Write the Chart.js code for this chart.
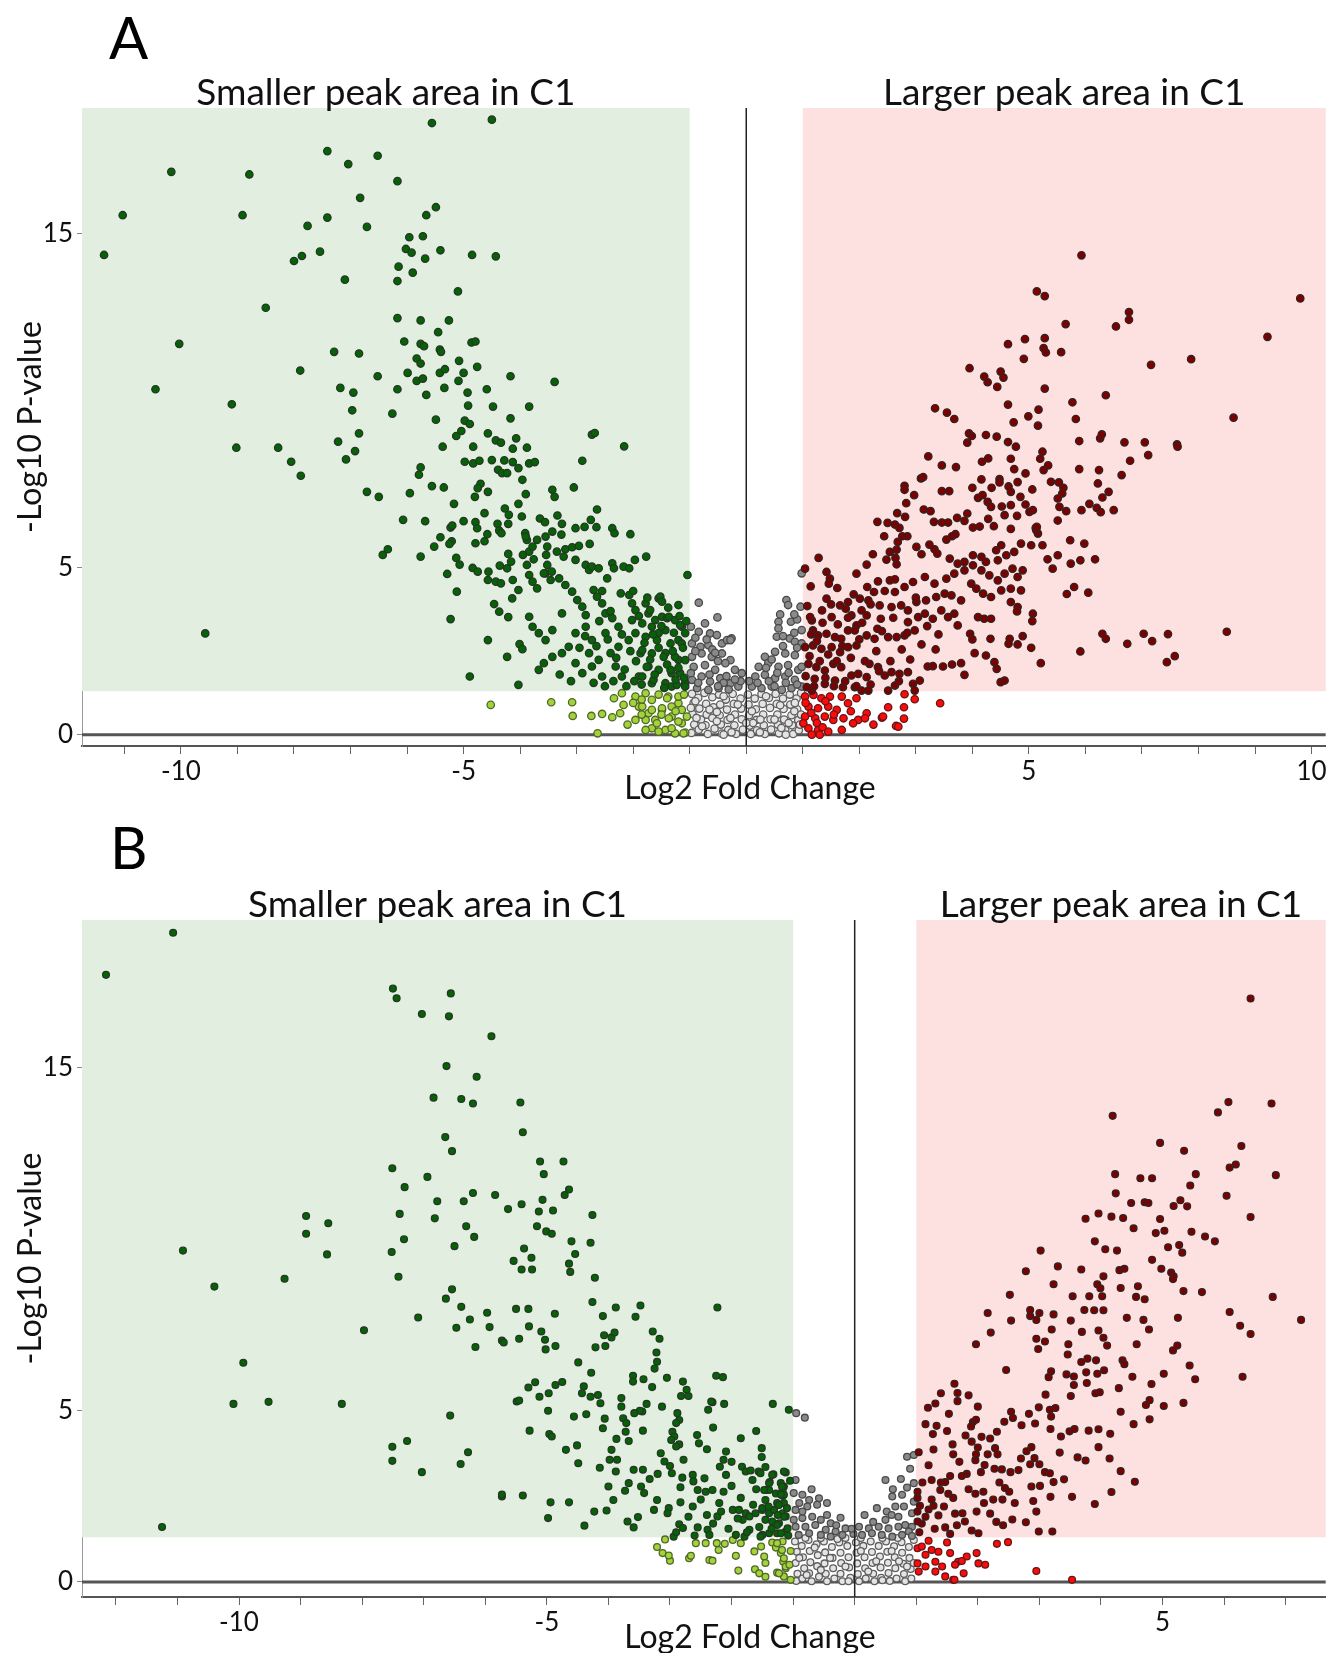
<!DOCTYPE html>
<html>
<head>
<meta charset="utf-8">
<script src="https://cdn.jsdelivr.net/npm/chart.js@4.4.1/dist/chart.umd.min.js"></script>
<style>
  html, body { margin: 0; padding: 0; background: #fff; overflow: hidden; }
  body { width: 1331px; height: 1653px; position: relative; font-family: Lato, sans-serif; }
  .panel { position: absolute; left: 0; width: 1331px; }
  #wrapA { top: 0; height: 820px; }
  #wrapB { top: 820px; height: 880px; }
  .letter { position: absolute; font-family: Lato, sans-serif; font-weight: 400; font-size: 58px; color: #000; line-height: 1; }
</style>
</head>
<body>
<div class="panel" id="wrapA"><canvas id="chartA" width="1331" height="820"></canvas></div>
<div class="panel" id="wrapB"><canvas id="chartB" width="1331" height="880"></canvas></div>
<div class="letter" style="left:109px;top:8px">A</div>
<div class="letter" style="left:110px;top:818px">B</div>

<script>
// thresholds
const fcCut = 1;
const pCut = 1.3;

const xTickLabelsA = [-10, -5, 5, 10];
const xTickLabelsB = [-10, -5, 5];
const yTickLabels = [0, 5, 15];
const leftLabel = 'Smaller peak area in C1';
const rightLabel = 'Larger peak area in C1';
const xTitle = 'Log2 Fold Change';
const yTitle = '-Log10 P-value';

// ---------- panel A (flat x,y pairs) ----------
const aDarkGreen = [
  -5.56,18.31, -4.50,18.41, -7.41,17.47, -6.52,17.33, -7.04,17.08, -10.17,16.85, -8.79,16.77, -6.17,16.57, -6.83,16.07, -5.49,15.79,
  -5.66,15.55, -11.03,15.55, -8.91,15.55, -7.41,15.48, -7.76,15.23, -6.71,15.20, -5.72,14.92, -5.96,14.89, -11.36,14.36, -6.02,14.54,
  -5.92,14.43, -5.41,14.50, -5.68,14.25, -4.85,14.36, -4.43,14.32, -7.54,14.46, -7.86,14.33, -8.00,14.18, -6.15,14.01, -5.90,13.83,
  -6.17,13.58, -7.10,13.62, -5.10,13.27, -8.50,12.78, -6.17,12.47, -5.76,12.40, -5.26,12.40, -5.45,12.05, -10.03,11.70, -6.05,11.77,
  -5.76,11.70, -5.70,11.63, -5.42,11.53, -5.40,11.46, -4.86,11.74, -4.79,11.77, -7.29,11.46, -6.85,11.41, -5.83,11.26, -5.76,11.11,
  -5.08,11.19, -4.76,11.01, -7.89,10.90, -5.99,10.83, -5.83,10.59, -5.72,10.66, -5.42,10.83, -5.33,10.94, -5.00,10.83, -6.52,10.73,
  -4.17,10.73, -3.39,10.56, -5.09,10.59, -10.45,10.34, -7.18,10.38, -6.95,10.24, -6.17,10.34, -5.66,10.17, -5.34,10.38, -4.93,10.24,
  -4.59,10.34, -9.10,9.89, -6.97,9.71, -6.26,9.61, -4.92,9.85, -4.48,9.82, -3.84,9.82, -5.49,9.43, -4.98,9.40, -4.89,9.30,
  -4.17,9.47, -6.85,9.02, -7.22,8.77, -5.13,8.94, -5.04,9.09, -4.57,9.02, -4.43,8.81, -4.34,8.74, -4.07,8.87, -9.02,8.59,
  -8.28,8.59, -6.92,8.49, -5.37,8.62, -4.83,8.62, -4.13,8.56, -3.88,8.59, -8.05,8.17, -7.08,8.24, -4.98,8.17, -4.83,8.12,
  -4.72,8.20, -4.50,8.22, -4.28,8.21, -4.13,8.16, -3.84,8.12, -3.74,8.16, -2.90,8.20, -2.73,8.98, -2.68,9.03, -2.16,8.63,
  -5.79,7.78, -5.76,8.00, -7.88,7.75, -4.39,7.93, -4.32,7.83, -4.23,7.83, -4.03,7.98, -3.96,7.63, -4.70,7.51, -4.75,7.38,
  -4.57,7.27, -4.80,7.12, -3.90,7.20, -3.43,7.33, -3.39,7.12, -3.05,7.40, -6.71,7.27, -6.50,7.12, -5.95,7.23, -5.56,7.44,
  -5.35,7.40, -5.17,6.91, -4.03,6.91, -4.27,6.77, -4.20,6.58, -4.21,6.31, -4.63,6.63, -4.79,6.36, -4.76,6.18, -4.58,6.00,
  -4.63,5.79, -4.79,5.73, -3.97,6.53, -3.65,6.47, -3.56,6.36, -3.34,6.56, -3.26,6.31, -2.64,6.74, -2.75,6.43, -2.65,6.21,
  -3.02,6.18, -2.86,6.22, -6.07,6.43, -5.68,6.39, -5.23,6.20, -5.20,6.26, -5.00,6.39, -5.41,5.91, -5.21,5.79, -5.25,5.71,
  -5.52,5.63, -4.40,6.31, -4.37,6.11, -4.33,6.03, -3.91,6.03, -3.88,5.83, -3.70,5.83, -3.55,5.93, -3.52,5.63, -3.43,6.08,
  -3.27,5.99, -2.37,6.18, -2.33,6.03, -2.05,6.00, -6.43,5.38, -6.34,5.55, -5.76,5.33, -5.13,5.29, -5.07,5.09, -5.29,4.81,
  -5.12,4.28, -5.23,3.46, -4.84,4.99, -4.75,4.88, -4.56,4.88, -4.57,4.63, -4.43,4.58, -4.34,4.53, -4.36,5.06, -4.21,5.41,
  -4.16,5.18, -4.23,4.98, -4.13,4.63, -4.03,4.33, -4.14,4.08, -4.46,3.91, -4.37,3.68, -4.21,3.52, -4.57,2.83, -4.89,1.74,
  -4.23,2.33, -4.03,1.49, -4.01,2.71, -3.96,2.56, -3.90,5.93, -3.95,5.38, -3.88,5.08, -3.76,5.25, -3.84,5.48, -3.78,5.63,
  -3.54,5.38, -3.52,5.08, -3.55,4.83, -3.46,4.63, -3.35,5.48, -3.23,5.33, -3.20,5.55, -3.08,5.61, -2.96,5.65, -2.77,5.71,
  -3.02,5.23, -2.84,5.08, -2.78,4.93, -2.73,5.03, -2.61,4.98, -2.46,4.68, -2.37,5.13, -2.34,4.98, -2.17,5.03, -2.07,4.98,
  -1.97,5.23, -1.77,5.33, -1.04,4.78, -3.84,4.78, -3.78,4.58, -3.70,4.38, -3.58,4.83, -3.44,4.88, -3.31,4.68, -3.20,4.48,
  -3.08,4.28, -2.99,4.03, -2.90,3.83, -2.84,3.58, -2.70,4.33, -2.64,4.13, -2.55,3.93, -2.49,3.63, -2.37,3.49, -2.22,4.23,
  -2.07,4.18, -2.02,3.93, -1.96,3.73, -1.78,3.93, -1.55,4.08, -1.73,3.63, -1.61,3.43, -1.49,3.53, -1.40,3.49, -1.20,3.88,
  -1.26,3.43, -1.14,3.23, -1.08,3.04, -3.84,3.53, -3.78,3.23, -3.67,3.04, -3.55,2.83, -3.43,2.33, -3.26,2.44, -3.14,2.63,
  -3.02,2.14, -2.90,1.84, -2.78,2.44, -2.73,2.04, -2.61,2.24, -2.55,1.74, -2.40,2.44, -2.31,2.04, -2.20,1.74, -2.08,2.83,
  -1.96,3.04, -1.87,2.44, -1.73,2.04, -1.55,3.04, -1.43,2.44, -1.32,1.84, -1.20,2.24, -1.08,1.54, -1.90,1.74, -1.67,1.54,
  -1.32,1.44, -2.84,3.23, -2.73,2.83, -2.49,3.04, -2.26,3.23, -2.02,3.43, -1.20,2.83, -3.26,3.63, -3.43,3.13, -3.58,2.14,
  -3.67,1.94, -3.02,3.04, -2.26,2.63, -1.52,4.13, -1.49,3.98, -1.70,3.73, -1.37,3.53, -1.17,3.28, -1.84,3.33, -1.67,3.23,
  -1.43,3.13, -1.78,2.93, -1.58,2.83, -1.34,2.73, -1.14,2.73, -1.84,2.53, -1.67,2.43, -1.46,2.33, -1.26,2.33, -1.08,2.23,
  -1.76,2.03, -1.55,1.94, -1.34,1.94, -1.17,1.84, -1.84,1.74, -1.64,1.64, -1.43,1.54, -1.23,1.49, -1.08,1.44, -9.57,3.03,
  -2.95,2.60, -2.85,2.95, -2.65,2.65, -2.60,3.40, -2.45,2.85, -2.40,3.70, -2.30,2.30, -2.20,3.00, -2.15,1.95, -2.05,2.50,
  -2.00,4.30, -1.95,2.20, -1.90,3.55, -1.85,1.50, -1.80,2.75, -1.75,4.10, -1.70,2.25, -1.65,3.00, -1.62,1.80, -1.55,2.60,
  -1.50,3.25, -1.45,1.40, -1.40,2.10, -1.38,3.80, -1.30,2.50, -1.28,3.05, -1.25,1.65, -1.20,2.00, -1.18,3.55, -1.12,2.60,
  -1.10,1.70, -1.06,3.40, -2.50,1.45, -2.35,1.60, -2.12,1.45, -1.98,1.60, -2.70,1.55, -3.10,1.60, -3.30,1.80, -2.55,4.30
];
const aLightGreen = [
  -4.52,0.89, -3.45,0.97, -3.08,0.97, -3.07,0.56, -2.74,0.56, -2.55,0.62, -2.37,0.52, -2.34,1.09, -2.20,1.24, -2.17,0.89,
  -2.23,0.64, -2.63,0.04, -1.96,1.14, -1.90,0.84, -1.78,1.24, -1.67,1.04, -1.73,0.64, -1.61,0.44, -1.49,0.74, -1.38,1.14,
  -1.32,0.54, -1.20,0.94, -1.14,0.34, -1.43,0.14, -1.67,0.19, -1.78,0.44, -1.96,0.44, -1.26,0.04, -1.08,0.06, -1.40,1.09,
  -1.20,1.14, -1.84,0.84, -1.67,0.74, -1.49,0.79, -1.32,0.84, -1.14,0.74, -1.58,0.34, -1.37,0.49, -1.20,0.39, -1.05,0.54,
  -1.78,0.14, -1.55,0.09, -1.32,0.19, -1.11,0.04, -2.00,0.95, -2.10,0.30, -1.85,0.60, -1.50,0.60, -1.25,0.70, -1.10,1.20,
  -1.55,1.20, -1.85,1.05
];
const aGrey = [
  -0.84,3.95, -0.51,3.51, -0.73,3.33, -0.84,3.08, -0.64,3.03, -0.52,2.98, -0.96,2.73, -0.81,2.63, -0.67,2.68, -0.43,2.73,
  -0.34,2.83, -0.26,2.88, -0.96,2.33, -0.79,2.43, -0.61,2.33, -0.43,2.43, -0.28,2.23, -0.93,2.03, -0.73,2.08, -0.55,1.94,
  -0.37,2.14, -0.20,1.94, -0.08,1.84, -0.96,1.64, -0.79,1.74, -0.64,1.59, -0.46,1.69, -0.28,1.54, -0.14,1.44, -0.87,1.39,
  -0.67,1.34, -0.49,1.39, -0.31,1.35, -0.98,3.23, -0.98,1.84, -0.28,2.83, -0.90,2.90, -0.60,2.55, -0.50,2.20, -0.85,1.55,
  -0.40,1.55, -0.10,1.60, 0.98,4.83, 0.71,4.03, 0.74,3.88, 0.96,3.83, 0.79,3.38, 0.57,3.38, 0.57,3.18, 0.98,3.13,
  0.54,2.93, 0.77,2.88, 0.86,2.78, 0.98,2.73, 0.33,2.33, 0.51,2.48, 0.69,2.43, 0.86,2.38, 0.22,2.03, 0.39,2.14,
  0.57,2.03, 0.74,2.08, 0.92,1.94, 0.16,1.74, 0.33,1.79, 0.51,1.69, 0.69,1.74, 0.86,1.64, 0.10,1.44, 0.27,1.39,
  0.45,1.44, 0.63,1.34, 0.80,1.39, 0.98,1.44, 0.98,2.03, 0.45,2.25, 0.65,2.65, 0.85,3.05, 0.40,1.60, 0.70,1.55,
  0.05,1.60, 0.60,3.60, 0.90,3.45, -0.90,2.50, -0.70,2.85, -0.55,2.45, -0.65,1.80, -0.35,1.75, -0.20,1.65, -0.50,1.45,
  0.20,1.55, 0.35,2.00, 0.55,1.85, 0.75,1.85, 0.90,2.60, 0.65,2.95, 0.85,3.60, 0.50,1.45, 0.90,1.50
];
const aLightGrey = [
  -0.96,1.22, -0.93,0.95, -0.95,0.62, -0.92,0.30, -0.97,0.05, -0.85,1.10, -0.83,0.78, -0.80,0.45, -0.84,0.15, -0.74,1.25,
  -0.71,0.92, -0.70,0.60, -0.72,0.28, -0.68,0.02, -0.60,1.12, -0.58,0.82, -0.60,0.50, -0.56,0.18, -0.48,1.20, -0.46,0.90,
  -0.47,0.58, -0.45,0.30, -0.43,0.03, -0.36,1.05, -0.34,0.75, -0.33,0.44, -0.32,0.14, -0.24,1.22, -0.22,0.92, -0.20,0.60,
  -0.21,0.28, -0.18,0.02, -0.10,1.08, -0.09,0.78, -0.08,0.46, -0.06,0.15, 0.03,1.20, 0.04,0.90, 0.05,0.58, 0.06,0.27,
  0.08,0.02, 0.15,1.08, 0.17,0.76, 0.18,0.44, 0.19,0.13, 0.27,1.22, 0.29,0.92, 0.30,0.60, 0.31,0.28, 0.33,0.02,
  0.40,1.10, 0.42,0.80, 0.43,0.46, 0.44,0.15, 0.52,1.22, 0.54,0.92, 0.55,0.60, 0.56,0.30, 0.58,0.04, 0.65,1.08,
  0.66,0.77, 0.67,0.45, 0.69,0.14, 0.77,1.20, 0.78,0.90, 0.80,0.58, 0.81,0.28, 0.83,0.02, 0.89,1.08, 0.90,0.76,
  0.92,0.44, 0.93,0.13, 0.97,1.25, 0.97,0.60, -0.98,0.80, -0.26,0.07, 0.24,0.07, -0.52,0.68, 0.12,0.35, 0.62,0.20,
  -0.88,0.50, 0.86,0.95, -0.90,1.00, -0.65,0.75, -0.40,1.15, -0.15,0.90, 0.10,0.70, 0.35,1.15, 0.60,0.88, 0.85,0.70,
  -0.78,0.25, -0.52,0.40, -0.28,0.50, 0.00,0.35, 0.25,0.45, 0.50,0.45, 0.75,0.35, 0.95,0.30, -0.40,0.00, 0.70,0.00
];
const aRed = [
  2.80,1.21, 2.98,1.06, 3.43,0.94, 2.51,0.82, 2.79,0.82, 2.40,0.51, 2.79,0.48, 2.65,0.26, 2.13,0.64, 1.98,0.44,
  1.89,0.34, 2.10,0.49, 1.95,1.09, 1.80,0.94, 1.69,1.14, 1.69,0.14, 1.04,1.14, 1.19,1.19, 1.33,1.09, 1.48,1.14,
  1.10,0.84, 1.27,0.79, 1.45,0.84, 1.60,0.74, 1.04,0.54, 1.22,0.49, 1.39,0.54, 1.54,0.44, 1.10,0.19, 1.27,0.14,
  1.45,0.09, 1.16,0.00, 1.30,0.00, 1.72,0.49, 1.01,0.34, 2.42,0.54, 2.69,0.24, 1.05,0.95, 1.25,0.35, 1.40,1.00,
  1.55,0.60, 1.15,0.65, 1.85,0.70, 2.25,0.30, 1.35,0.22
];
const aDarkRed = [
  5.93,14.35, 5.14,13.27, 5.28,13.13, 9.80,13.06, 6.77,12.65, 6.77,12.42, 6.54,12.22, 5.65,12.29, 9.22,11.91, 4.63,11.69,
  4.93,11.84, 5.28,11.87, 5.26,11.57, 5.30,11.44, 5.57,11.45, 4.91,11.25, 7.87,11.24, 7.16,11.07, 3.95,10.97, 4.21,10.72,
  4.27,10.55, 4.50,10.87, 4.55,10.69, 4.44,10.41, 5.28,10.36, 6.36,10.16, 5.77,9.95, 5.83,9.45, 4.63,9.88, 5.17,9.73,
  4.99,9.53, 4.73,9.35, 5.16,9.25, 8.62,9.49, 3.34,9.77, 3.55,9.64, 3.68,9.45, 3.94,9.02, 3.99,8.94, 3.91,8.74,
  4.24,8.97, 4.43,8.92, 4.63,8.76, 4.77,8.62, 5.89,8.79, 6.26,8.87, 6.29,8.99, 6.69,8.75, 7.05,8.75, 7.62,8.69,
  7.63,8.62, 7.11,8.37, 6.79,8.20, 5.24,8.47, 5.20,8.26, 4.68,8.26, 4.28,8.27, 4.17,8.17, 3.22,8.33, 3.46,8.06,
  3.71,8.01, 4.74,7.95, 4.94,7.82, 5.26,7.92, 5.34,8.06, 5.89,7.95, 6.24,7.92, 6.64,7.77, 3.09,7.67, 3.13,7.71,
  2.80,7.45, 2.80,7.33, 2.97,7.17, 2.83,6.93, 3.46,7.29, 3.59,7.29, 4.00,7.39, 4.16,7.64, 4.34,7.39, 4.48,7.65,
  4.48,7.55, 4.64,7.43, 4.68,7.27, 4.80,7.56, 5.06,7.34, 5.39,7.57, 5.53,7.55, 5.61,7.39, 5.59,7.22, 5.51,7.07,
  6.22,7.52, 6.41,7.27, 6.30,7.10, 4.10,7.09, 4.18,7.17, 4.27,6.97, 4.33,6.82, 4.52,6.83, 4.68,6.87, 4.85,7.12,
  4.94,6.89, 5.01,6.67, 5.07,6.72, 4.79,6.55, 4.57,6.57, 5.54,6.82, 5.66,6.69, 5.93,6.72, 6.07,6.91, 6.20,6.79,
  6.27,6.66, 6.50,6.72, 5.51,6.41, 2.32,6.37, 2.50,6.34, 2.63,6.29, 2.67,6.63, 2.81,6.52, 3.14,6.74, 3.26,6.69,
  3.32,6.37, 3.46,6.35, 3.57,6.35, 3.73,6.49, 3.86,6.40, 3.91,6.62, 4.01,6.20, 4.13,6.23, 4.28,6.46, 4.38,6.24,
  4.68,6.16, 5.12,6.19, 5.16,6.02, 2.44,5.94, 2.71,6.19, 2.76,5.94, 2.68,5.77, 2.85,5.94, 3.01,5.62, 3.10,5.40,
  3.24,5.69, 3.33,5.55, 3.38,5.42, 3.54,5.84, 3.64,5.94, 3.70,6.00, 2.24,5.40, 2.13,5.09, 2.54,5.47, 2.66,5.54,
  2.48,5.24, 2.64,5.29, 2.66,5.10, 2.33,4.59, 2.54,4.62, 2.63,4.65, 1.95,4.82, 1.42,4.87, 1.48,4.67, 1.46,4.52,
  1.28,5.29, 1.04,4.97, 1.14,4.44, 1.61,4.39, 2.14,4.42, 2.26,4.27, 2.01,4.07, 2.16,4.02, 1.42,4.07, 1.80,3.97,
  1.66,3.87, 1.76,3.77, 1.34,3.72, 1.51,3.52, 1.16,3.42, 1.13,3.52, 2.04,3.72, 2.13,3.57, 1.86,3.57, 2.38,3.47,
  2.32,3.17, 1.95,3.27, 1.92,3.12, 1.80,3.12, 1.18,3.12, 1.27,2.97, 1.42,3.02, 1.57,2.92, 1.68,2.87, 1.04,2.62,
  1.18,2.67, 1.33,2.57, 1.51,2.62, 1.66,2.47, 1.80,2.62, 1.95,2.67, 2.13,2.97, 2.27,2.87, 2.51,2.92, 2.66,2.92,
  2.80,2.97, 2.98,3.12, 2.86,3.37, 3.04,3.52, 3.16,3.62, 3.30,3.47, 3.45,3.72, 3.57,3.52, 3.68,3.62, 3.74,3.27,
  2.57,3.82, 2.74,3.87, 2.86,3.72, 3.01,3.97, 3.18,4.02, 3.36,4.12, 3.51,4.22, 3.63,4.17, 3.80,4.02, 2.36,3.87,
  2.63,4.27, 2.80,4.42, 2.95,4.57, 3.16,4.72, 3.33,4.52, 3.54,4.67, 3.68,4.82, 3.86,4.92, 4.01,5.07, 4.16,4.92,
  4.30,4.77, 4.45,4.62, 4.57,4.82, 4.71,4.97, 4.80,4.72, 4.89,4.92, 4.86,4.32, 4.68,4.37, 4.51,4.32, 4.33,4.12,
  4.19,4.22, 3.98,4.52, 4.07,4.37, 3.60,5.27, 3.74,5.12, 3.86,5.17, 4.01,5.37, 4.16,5.32, 4.24,5.17, 4.45,5.22,
  4.42,5.52, 4.51,5.67, 4.60,5.37, 4.74,5.47, 4.86,5.72, 5.04,5.67, 5.24,5.67, 5.13,6.12, 5.14,6.22, 5.33,5.25,
  5.51,5.37, 5.42,4.97, 5.74,5.12, 5.91,5.22, 6.17,5.25, 5.98,5.72, 5.73,5.82, 5.67,4.21, 5.80,4.42, 6.05,4.25,
  5.07,3.62, 5.06,3.40, 4.68,3.97, 4.80,3.82, 4.79,3.69, 4.10,3.52, 4.21,3.47, 4.33,3.47, 3.96,3.02, 4.00,2.85,
  4.32,2.87, 4.66,2.87, 4.64,2.72, 4.80,2.70, 4.89,2.95, 5.04,2.60, 5.21,2.14, 5.91,2.49, 6.30,3.02, 6.36,2.87,
  6.74,2.72, 7.03,3.02, 7.18,2.80, 7.46,3.01, 7.44,2.17, 7.58,2.35, 8.50,3.08, 4.04,2.44, 4.24,2.37, 4.39,2.17,
  4.43,1.97, 4.50,1.57, 4.57,1.62, 3.86,1.79, 3.48,2.04, 3.64,2.10, 3.80,2.14, 3.21,2.04, 3.30,2.05, 3.07,1.62,
  2.95,1.52, 2.98,1.32, 2.51,1.32, 2.63,1.47, 2.71,1.82, 2.86,1.87, 2.18,2.12, 2.33,2.02, 2.45,1.77, 2.57,1.87,
  1.86,1.77, 1.98,1.82, 2.13,1.72, 2.04,1.32, 2.16,1.32, 1.92,1.42, 1.10,2.12, 1.24,2.02, 1.39,1.92, 1.54,2.12,
  1.68,2.02, 1.21,1.67, 1.39,1.52, 1.57,1.62, 1.71,1.42, 1.07,1.42, 1.16,1.32,
  1.05,1.75, 1.12,2.35, 1.15,3.00, 1.20,1.45, 1.25,2.80, 1.30,2.20, 1.35,3.35, 1.40,1.70, 1.45,2.40, 1.50,3.90,
  1.55,1.45, 1.60,2.20, 1.62,3.30, 1.70,2.65, 1.75,1.60, 1.80,3.50, 1.85,2.30, 1.90,4.20, 1.95,1.45, 2.00,2.85,
  2.05,3.35, 2.10,2.20, 2.20,1.50, 2.20,3.90, 2.30,2.50, 2.35,1.90, 2.40,3.10, 2.45,4.30, 2.55,2.20, 2.60,3.50,
  2.70,1.60, 2.75,2.55, 2.85,3.05, 2.90,2.25, 3.00,4.10, 3.10,2.70, 3.20,3.25, 3.35,2.55, 3.40,3.00, 1.08,3.85
];

// ---------- panel B ----------
const bDarkGreen = [
  -11.07,18.93, -12.16,17.70, -7.50,17.30, -7.44,17.02, -6.56,17.16, -7.03,16.56, -6.59,16.49, -5.90,15.91, -6.63,15.04, -6.14,14.73,
  -6.84,14.12, -6.39,14.08, -6.20,13.95, -5.43,13.98, -5.39,13.11, -6.65,12.97, -6.54,12.56, -7.51,12.06, -6.94,11.81, -7.31,11.51,
  -5.11,12.26, -4.73,12.26, -5.05,11.89, -4.64,11.44, -4.71,11.28, -6.20,11.34, -5.84,11.28, -6.78,11.10, -6.35,11.10, -5.63,10.87,
  -5.41,11.01, -5.13,10.80, -5.07,11.14, -4.90,10.83, -4.26,10.70, -7.39,10.73, -6.82,10.60, -8.91,10.67, -8.55,10.46, -8.91,10.15,
  -8.57,9.55, -6.31,10.37, -6.18,10.06, -5.16,10.37, -5.01,10.22, -4.92,10.15, -7.32,9.99, -7.52,9.62, -6.50,9.79, -4.60,9.93,
  -4.29,9.89, -5.37,9.72, -5.25,9.45, -5.54,9.36, -5.41,9.11, -5.24,9.11, -4.64,9.28, -4.62,9.04, -4.54,9.56, -10.91,9.66,
  -10.40,8.61, -9.26,8.84, -7.41,8.90, -4.22,8.87, -6.54,8.53, -6.64,8.26, -6.39,8.02, -5.97,7.85, -5.50,7.96, -5.30,7.96,
  -4.87,7.82, -4.26,8.16, -4.09,7.75, -3.88,8.00, -3.56,7.73, -3.48,8.06, -7.09,7.71, -6.25,7.65, -2.23,8.00, -5.93,7.43,
  -5.29,7.45, -5.45,7.09, -5.09,7.30, -5.03,7.06, -5.02,6.78, -4.86,6.88, -5.73,7.04, -5.70,6.98, -3.28,7.30, -3.17,7.09,
  -4.07,7.19, -3.95,7.13, -3.90,7.27, -4.05,6.88, -4.21,6.84, -3.22,6.69, -3.21,6.42, -3.25,6.22, -4.49,6.40, -4.28,6.10,
  -3.60,6.01, -3.60,5.84, -3.43,5.91, -3.29,5.68, -3.05,5.95, -2.79,5.84, -2.73,5.60, -2.82,5.42, -2.70,5.42, -2.25,6.01,
  -2.14,5.97, -5.19,5.82, -5.30,5.67, -4.86,5.74, -4.75,5.83, -4.97,5.50, -5.12,5.40, -5.49,5.26, -5.45,5.29, -4.40,5.70,
  -4.43,5.50, -4.29,5.40, -4.17,5.45, -4.13,5.21, -3.79,5.36, -3.79,5.11, -4.98,4.99, -4.56,4.82, -4.36,4.89, -3.38,5.19,
  -3.45,4.97, -3.49,4.99, -3.58,4.92, -3.13,5.11, -2.88,4.92, -2.85,4.72, -2.90,4.63, -2.38,5.02, -2.31,5.24, -2.12,5.19,
  -2.33,5.26, -1.33,5.19, -1.07,5.02, -5.28,4.41, -4.96,4.31, -4.92,4.24, -4.06,4.76, -4.09,4.48, -3.76,4.77, -3.71,4.63,
  -3.87,4.17, -3.72,4.38, -3.67,4.11, -3.44,4.41, -2.96,4.38, -2.93,4.24, -2.98,4.14, -2.85,4.01, -2.90,3.95, -2.56,4.28,
  -2.53,4.04, -2.40,3.87, -1.85,4.19, -4.69,3.85, -4.51,3.98, -4.49,3.46, -3.95,3.85, -3.98,3.56, -3.86,3.56, -4.14,3.33,
  -3.88,3.22, -4.00,2.78, -3.15,3.75, -3.09,3.51, -3.00,3.38, -2.97,3.17, -2.78,3.56, -2.63,3.12, -2.62,2.93, -2.80,3.04,
  -2.83,2.76, -2.09,3.80, -2.13,3.56, -2.19,3.36, -2.09,3.12, -2.44,3.02, -2.55,2.68, -2.42,2.63, -2.31,2.68, -2.13,2.63,
  -1.51,3.90, -1.51,3.64, -1.83,3.36, -1.77,3.22, -1.66,2.97, -1.69,3.25, -1.56,3.22, -1.32,3.14, -1.12,3.19, -1.15,2.78,
  -1.38,2.91, -1.44,2.68, -1.17,2.51, -3.59,3.27, -3.44,3.27, -3.33,3.00, -3.20,3.15, -3.67,2.88, -3.47,2.78, -3.42,2.59,
  -3.73,2.66, -5.73,2.49, -5.39,2.52, -4.94,2.32, -4.64,2.32, -4.98,1.86, -4.39,1.64, -4.23,2.05, -4.03,2.08, -3.92,2.39,
  -3.69,1.76, -3.59,1.59, -3.52,1.89, -3.26,2.10, -3.21,2.39, -3.02,2.15, -3.04,2.00, -2.83,2.32, -2.63,2.20, -2.85,1.68,
  -2.79,1.57, -2.55,1.59, -2.40,1.95, -2.39,1.52, -2.23,1.91, -2.36,1.37, -2.17,2.05, -1.98,2.10, -1.88,2.10, -1.77,2.00,
  -1.82,1.81, -1.71,1.91, -1.61,2.00, -1.71,1.52, -1.50,2.10, -1.39,2.00, -1.34,1.76, -1.23,1.71, -1.50,1.37, -1.39,1.42,
  -1.26,1.42, -1.12,1.47, -1.93,1.37, -1.79,1.32, -1.20,2.88, -1.17,2.68, -1.15,2.30, -1.17,2.00, -1.12,1.91, -1.26,2.30,
  -1.39,2.68, -2.94,1.32, -9.93,6.39, -7.97,7.34, -7.51,3.94, -7.27,4.11, -7.03,3.20, -10.09,5.19, -9.52,5.25, -8.33,5.19,
  -11.25,1.60, -6.57,4.85, -6.28,3.78, -6.40,3.44, -5.73,2.55, -6.16,6.85, -6.47,7.41, -7.51,3.53, -1.53,3.17, -1.34,3.12,
  -1.39,2.88, -1.15,3.22, -1.18,2.78, -1.47,2.68, -1.28,2.58, -1.15,2.54, -1.45,2.39, -1.23,2.24, -1.50,2.15, -1.31,2.10,
  -1.15,1.90, -1.45,1.81, -1.26,1.66, -1.09,1.56, -1.20,1.42, -1.53,1.32,
  -2.90,1.45, -2.70,1.90, -2.50,2.40, -2.60,1.35, -2.30,1.70, -2.20,2.30, -2.05,1.55, -2.00,2.80, -1.90,1.85, -1.85,2.45,
  -1.75,1.45, -1.65,2.25, -1.60,2.70, -1.55,1.60, -1.45,3.35, -1.40,2.20, -1.35,1.55, -1.25,1.95, -1.20,2.55, -1.10,2.15,
  -1.08,1.35, -1.05,2.95, -1.60,4.40, -2.00,3.50, -2.30,4.50
];
const bLightGreen = [
  -3.08,1.24, -3.12,0.84, -3.00,0.62, -2.69,0.69, -2.66,0.76, -2.58,1.13, -2.42,1.13, -2.24,1.13, -2.11,1.11, -2.21,0.93,
  -2.36,0.64, -2.31,0.62, -1.98,1.22, -1.85,1.13, -1.93,0.76, -1.89,0.33, -1.63,0.89, -1.52,1.03, -1.47,0.74, -1.45,0.55,
  -1.62,0.37, -1.55,0.25, -1.34,1.15, -1.17,1.18, -1.28,1.00, -1.20,0.84, -1.16,0.59, -1.12,0.40, -1.26,0.27, -1.15,0.16,
  -3.21,1.02, -3.02,0.77, -1.26,1.13, -1.18,0.93, -1.15,0.69, -1.12,0.45, -1.23,0.25, -1.04,0.06, -1.45,0.15, -1.04,0.90,
  -1.06,0.50
];
const bGrey = [
  -0.95,4.92, -0.81,4.79, -0.96,2.97, -0.99,2.59, -0.85,2.54, -0.74,2.39, -0.58,2.44, -0.77,2.20, -0.61,2.25, -0.96,2.10,
  -0.99,1.81, -0.85,1.86, -0.69,1.90, -0.55,1.81, -0.39,1.71, -0.23,1.87, -0.96,1.61, -0.80,1.61, -0.64,1.66, -0.47,1.52,
  -0.31,1.47, -0.15,1.56, -0.91,1.37, -0.74,1.42, -0.55,1.37, -0.39,1.32, -0.20,1.37, 0.16,1.95, 0.36,2.15, 0.50,2.97,
  0.61,2.49, 0.52,2.05, 0.66,2.20, 0.77,2.54, 0.82,1.66, 0.85,3.65, 0.96,3.70, 0.96,2.88, 0.96,2.34, 0.93,2.00,
  0.93,1.61, 0.07,1.61, 0.23,1.56, 0.39,1.61, 0.55,1.56, 0.71,1.61, 0.88,1.47, 0.12,1.37, 0.28,1.42, 0.44,1.37,
  0.61,1.32, 0.77,1.37, 0.93,1.34, 0.71,1.90, 0.50,1.81, -0.02,1.40, -0.90,2.30, 0.85,2.75, -0.85,2.05, -0.45,1.95,
  -0.30,1.65, -0.05,1.55, 0.30,1.75, 0.60,1.95, 0.80,2.20, 0.75,3.00, 0.90,3.30, 0.62,2.70, -0.70,2.70, -0.45,2.30
];
const bLightGrey = [
  -0.97,1.18, -0.94,0.88, -0.96,0.55, -0.93,0.24, -0.95,0.03, -0.86,1.05, -0.84,0.72, -0.82,0.40, -0.85,0.10, -0.75,1.22,
  -0.73,0.90, -0.72,0.57, -0.74,0.25, -0.70,0.02, -0.62,1.10, -0.60,0.78, -0.61,0.46, -0.58,0.15, -0.50,1.18, -0.48,0.86,
  -0.49,0.54, -0.47,0.24, -0.45,0.02, -0.37,1.02, -0.36,0.70, -0.35,0.40, -0.33,0.10, -0.25,1.15, -0.23,0.85, -0.22,0.55,
  -0.23,0.24, -0.20,0.02, -0.12,1.05, -0.10,0.72, -0.09,0.42, -0.07,0.12, 0.02,1.15, 0.03,0.85, 0.04,0.54, 0.05,0.23,
  0.07,0.02, 0.14,1.05, 0.16,0.72, 0.17,0.40, 0.18,0.10, 0.26,1.18, 0.28,0.87, 0.29,0.55, 0.30,0.24, 0.32,0.02,
  0.39,1.05, 0.41,0.74, 0.42,0.42, 0.43,0.12, 0.51,1.18, 0.53,0.88, 0.54,0.56, 0.55,0.26, 0.57,0.03, 0.64,1.04,
  0.65,0.72, 0.66,0.40, 0.68,0.10, 0.76,1.16, 0.77,0.85, 0.79,0.53, 0.80,0.23, 0.82,0.02, 0.88,1.02, 0.89,0.70,
  0.91,0.38, 0.92,0.10, 0.96,1.22, 0.96,0.55, -0.55,1.28, 0.45,1.28, -0.15,1.28, 0.10,1.28, -0.80,1.28, 0.70,1.28,
  -0.90,0.70, -0.65,1.00, -0.40,0.70, -0.15,0.45, 0.10,0.90, 0.35,0.60, 0.60,0.90, 0.85,0.45, -0.78,0.20, -0.28,1.25,
  0.22,0.30, 0.72,0.60, -0.55,0.35, 0.45,0.05, -0.10,0.02
];
const bRed = [
  1.02,0.98, 1.09,1.03, 1.15,0.79, 1.25,0.93, 1.36,0.88, 1.02,0.54, 1.15,0.45, 1.31,0.59, 1.42,0.45, 1.55,0.84,
  1.68,0.59, 1.77,0.25, 1.47,0.16, 1.31,0.30, 1.60,0.06, 1.82,0.74, 1.98,0.84, 2.01,0.54, 2.12,0.50, 2.31,1.11,
  2.49,1.16, 1.04,0.30, 2.95,0.32, 3.53,0.06, 1.74,0.61, 1.63,0.50, 1.62,0.06, 1.20,1.20, 1.50,1.15
];
const bDarkRed = [
  6.43,17.01, 4.19,13.59, 5.90,13.69, 6.07,13.99, 6.77,13.95, 4.96,12.80, 5.35,12.57, 6.28,12.71, 6.09,12.08, 6.19,12.17,
  6.84,11.86, 4.23,11.89, 4.64,11.77, 4.83,11.77, 5.54,11.89, 5.45,11.56, 6.04,11.26, 4.24,11.33, 4.49,11.05, 4.71,11.07,
  4.77,11.05, 5.18,10.96, 5.29,11.13, 5.40,10.95, 6.43,10.64, 3.75,10.59, 3.96,10.74, 4.17,10.65, 4.36,10.61, 4.53,10.31,
  4.89,10.17, 5.03,10.24, 4.96,10.58, 5.47,10.21, 5.69,10.07, 5.85,9.93, 3.90,9.93, 4.07,9.70, 4.26,9.66, 5.09,9.76,
  5.27,9.82, 5.32,9.60, 4.83,9.39, 3.02,9.66, 3.30,9.20, 3.68,9.11, 2.78,9.06, 4.04,8.91, 3.94,8.68, 3.99,8.56,
  4.30,9.09, 4.38,9.13, 4.98,9.13, 5.14,9.02, 5.18,8.91, 5.17,8.83, 4.60,8.62, 4.32,8.57, 4.57,8.31, 4.71,8.24,
  5.34,8.48, 5.64,8.45, 6.79,8.31, 3.23,8.68, 3.54,8.33, 3.81,8.33, 4.02,8.33, 2.52,8.37, 2.85,7.93, 3.00,7.84,
  2.85,7.75, 3.23,7.80, 3.73,7.93, 3.89,7.92, 4.04,7.92, 2.16,7.84, 2.54,7.62, 2.21,7.27, 3.51,7.62, 4.42,7.70,
  4.69,7.64, 4.78,7.36, 5.25,7.70, 6.09,7.87, 6.26,7.47, 6.43,7.23, 7.25,7.64, 2.95,7.64, 3.20,7.36, 2.95,7.09,
  3.09,7.01, 2.98,6.79, 3.69,7.29, 3.96,7.33, 4.04,7.12, 4.10,6.89, 1.97,6.93, 3.47,6.93, 3.46,6.63, 4.58,6.93,
  5.17,6.75, 5.24,6.89, 3.68,6.41, 3.78,6.51, 3.92,6.46, 3.94,6.07, 3.77,5.80, 4.05,6.17, 3.76,6.11, 4.35,6.46,
  4.38,6.35, 4.51,5.98, 4.82,5.77, 5.02,6.07, 5.44,6.31, 5.53,5.91, 6.30,5.98, 2.46,6.18, 3.19,6.14, 3.15,5.97,
  3.44,6.05, 3.56,5.99, 3.56,5.74, 4.29,5.65, 3.91,5.50, 3.98,5.53, 3.51,5.42, 3.10,5.46, 1.62,5.78, 1.67,5.51,
  1.67,5.27, 1.85,5.44, 2.00,5.11, 1.19,5.08, 1.31,5.20, 1.53,4.90, 1.33,4.55, 1.27,4.31, 1.92,4.66, 1.97,4.73,
  1.89,4.53, 1.80,4.27, 1.90,4.09, 1.59,4.01, 1.60,3.72, 1.97,3.72, 2.43,4.67, 2.54,4.96, 2.57,4.78, 2.71,4.57,
  2.83,4.90, 2.93,4.62, 2.99,5.09, 3.17,5.02, 3.19,4.82, 3.26,5.07, 3.18,4.46, 3.35,4.24, 3.49,4.39, 3.57,4.46,
  3.80,4.41, 3.96,4.45, 4.15,4.32, 3.96,3.93, 3.33,3.77, 3.62,3.63, 3.75,3.54, 4.14,3.60, 4.32,4.96, 4.53,4.60,
  4.79,4.74, 5.02,5.13, 5.34,5.22, 4.73,5.16, 4.79,5.30, 4.32,3.23, 4.55,2.92, 4.17,2.62, 3.90,2.27, 2.06,4.23,
  2.20,4.18, 2.31,4.38, 2.28,3.90, 2.32,3.72, 2.16,3.72, 2.00,3.92, 2.11,3.41, 2.27,3.30, 2.39,3.28, 2.53,3.20,
  2.66,3.26, 2.79,3.81, 2.85,3.43, 3.00,3.43, 2.87,3.93, 2.92,3.61, 3.09,3.20, 3.17,3.17, 3.23,2.91, 3.40,2.99,
  3.01,2.80, 2.87,2.78, 3.18,2.48, 3.53,2.48, 2.90,2.36, 2.95,2.05, 2.78,1.74, 2.99,1.47, 3.21,1.47, 2.44,2.74,
  2.51,2.63, 2.40,2.40, 2.56,1.82, 2.41,1.65, 2.25,2.40, 2.09,2.63, 1.96,2.57, 1.82,3.15, 1.96,3.55, 1.74,3.09,
  1.55,3.09, 1.47,2.91, 1.39,2.68, 1.52,2.57, 1.28,2.22, 1.20,2.11, 1.06,2.22, 1.36,1.94, 1.47,1.59, 1.66,1.65,
  1.79,1.76, 1.98,2.05, 2.20,1.99, 2.01,1.42, 1.63,1.99, 1.25,2.97, 1.02,2.63, 1.02,2.05, 1.09,1.70, 1.04,3.78,
  1.28,3.86, 1.02,2.45, 1.02,1.76,
  1.05,1.45, 1.10,2.90, 1.15,1.90, 1.20,3.40, 1.25,2.40, 1.30,1.55, 1.40,2.90, 1.45,2.20, 1.55,1.40, 1.60,2.45,
  1.70,3.50, 1.75,2.00, 1.85,2.70, 1.90,1.50, 2.05,3.20, 2.10,2.30, 2.30,1.75, 2.35,2.90, 2.60,2.30, 2.70,3.60,
  1.50,4.40, 1.15,4.60, 1.40,5.50
];

function toPoints(flat) {
  const out = [];
  for (let i = 0; i < flat.length; i += 2) out.push({ x: flat[i], y: flat[i + 1] });
  return out;
}

const FONT = 'Lato, "Open Sans", sans-serif';

// shaded regions, zero lines, captions and the x title
const regionPlugin = {
  id: 'regions',
  beforeDatasetsDraw(chart) {
    const { ctx, chartArea: a, scales: { x, y } } = chart;
    const yc = y.getPixelForValue(pCut);
    const xl = x.getPixelForValue(-fcCut);
    const xr = x.getPixelForValue(fcCut);
    ctx.save();
    ctx.fillStyle = '#e2efe0';
    ctx.fillRect(a.left, a.top, xl - a.left, yc - a.top);
    ctx.fillStyle = '#fde0e0';
    ctx.fillRect(xr, a.top, a.right - xr, yc - a.top);
    const y0 = y.getPixelForValue(0);
    ctx.strokeStyle = '#555';
    ctx.lineWidth = 3;
    ctx.beginPath();
    ctx.moveTo(a.left, y0);
    ctx.lineTo(a.right, y0);
    ctx.stroke();
    ctx.restore();
  },
  afterDatasetsDraw(chart, args, opts) {
    const { ctx, chartArea: a, scales: { x } } = chart;
    const x0 = x.getPixelForValue(0);
    ctx.save();
    ctx.strokeStyle = '#222';
    ctx.lineWidth = 1.5;
    ctx.beginPath();
    ctx.moveTo(x0, a.top);
    ctx.lineTo(x0, a.bottom);
    ctx.stroke();
    const xl = x.getPixelForValue(-fcCut);
    const xr = x.getPixelForValue(fcCut);
    ctx.fillStyle = '#111';
    ctx.font = '37px ' + FONT;
    ctx.textAlign = 'center';
    ctx.textBaseline = 'middle';
    ctx.fillText(leftLabel, (a.left + xl) / 2, a.top - 15);
    ctx.fillText(rightLabel, (xr + a.right) / 2, a.top - 15);
    ctx.font = '32px ' + FONT;
    ctx.fillText(xTitle, opts.titleX, opts.titleY);
    ctx.restore();
  }
};

function series(flat, fill, border, r) {
  return {
    data: toPoints(flat),
    backgroundColor: fill,
    borderColor: border,
    borderWidth: 1.3,
    pointRadius: r
  };
}

function makeChart(id, d, cfg) {
  const minorTicks = [];
  for (let v = Math.ceil(cfg.xMin); v <= Math.floor(cfg.xMax); v++) minorTicks.push({ value: v });
  return new Chart(document.getElementById(id), {
    type: 'scatter',
    data: {
      datasets: [
        series(d.darkRed, '#7d0000', '#332222', cfg.r),
        series(d.darkGreen, '#056305', '#263626', cfg.r),
        series(d.red, '#ff0a0a', '#661818', cfg.r),
        series(d.lightGreen, '#a3d23a', '#50692a', cfg.r),
        series(d.grey, '#8a8a8a', '#4a4a4a', cfg.r),
        series(d.lightGrey, '#e4e4e4', '#606060', cfg.r)
      ]
    },
    options: {
      responsive: false,
      animation: false,
      events: [],
      layout: { padding: { top: cfg.padTop, right: 3, left: 0, bottom: 0 } },
      plugins: {
        legend: { display: false },
        tooltip: { enabled: false },
        regions: { titleX: 750, titleY: cfg.titleY }
      },
      scales: {
        x: {
          type: 'linear',
          min: cfg.xMin,
          max: cfg.xMax,
          afterBuildTicks: s => { s.ticks = minorTicks.slice(); },
          afterFit: s => { s.height = cfg.xAxisH; },
          grid: { display: true, drawOnChartArea: false, drawTicks: true, tickLength: 8, color: '#666' },
          border: { display: true, color: '#555', width: 2 },
          ticks: {
            autoSkip: false, maxRotation: 0, padding: 2, color: '#111',
            font: { family: FONT, size: 26 },
            callback: v => cfg.xLabels.includes(v) ? String(v) : ''
          },
          title: { display: false }
        },
        y: {
          type: 'linear',
          min: cfg.yMin,
          max: cfg.yMax,
          afterBuildTicks: s => { s.ticks = yTickLabels.map(v => ({ value: v })); },
          afterFit: s => { s.width = 82; },
          grid: { display: true, drawOnChartArea: false, drawTicks: true, tickLength: 5, color: '#888' },
          border: { display: true, color: '#999', width: 1 },
          ticks: { padding: 4, color: '#111', font: { family: FONT, size: 26 } },
          title: {
            display: true, text: yTitle, color: '#111',
            font: { family: FONT, size: 32 }, padding: { top: 11, bottom: 0 }
          }
        }
      }
    },
    plugins: [regionPlugin]
  });
}

makeChart('chartA', {
  darkGreen: aDarkGreen, lightGreen: aLightGreen, grey: aGrey,
  lightGrey: aLightGrey, red: aRed, darkRed: aDarkRed
}, {
  xMin: -11.75, xMax: 10.25, yMin: -0.34, yMax: 18.76,
  xLabels: xTickLabelsA, padTop: 108, xAxisH: 74, titleY: 789, r: 3.7
});

makeChart('chartB', {
  darkGreen: bDarkGreen, lightGreen: bLightGreen, grey: bGrey,
  lightGrey: bLightGrey, red: bRed, darkRed: bDarkRed
}, {
  xMin: -12.55, xMax: 7.65, yMin: -0.44, yMax: 19.3,
  xLabels: xTickLabelsB, padTop: 100, xAxisH: 103, titleY: 818, r: 3.4
});
</script>
</body>
</html>
